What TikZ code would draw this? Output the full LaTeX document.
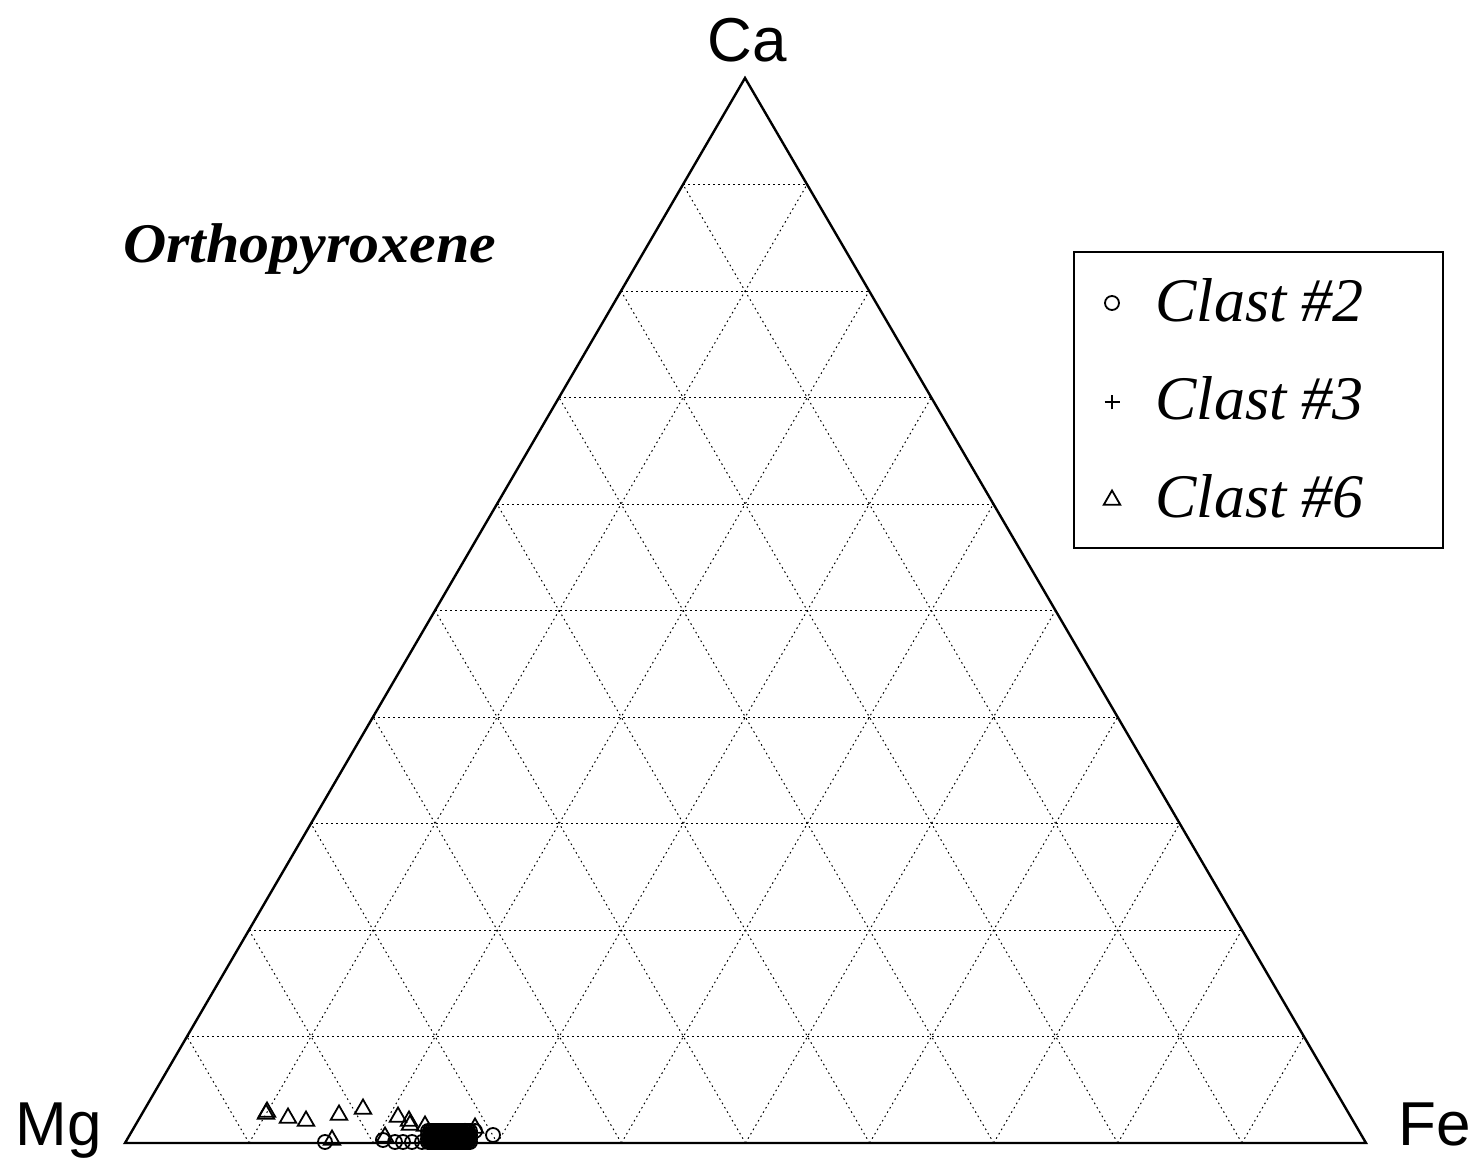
\documentclass[tikz,border=0pt]{standalone}
\usepackage{fontspec}
\setmainfont{Liberation Serif}
\newfontfamily\vertexfont{Liberation Sans}
\newfontfamily\titlefont[FakeStretch=1.07]{Liberation Serif}
\usetikzlibrary{shapes.geometric,shapes.misc,positioning,calc}
\tikzset{
  frame/.style={line width=1.2pt,line join=miter},
  gridline/.style={line width=0.5pt,dash pattern=on 0.8pt off 1.7pt},
  vertex/.style={font=\vertexfont\fontsize{31}{31}\selectfont,inner sep=0pt},
  plottitle/.style={font=\titlefont\bfseries\itshape\fontsize{28}{28}\selectfont,
                    inner sep=0pt,anchor=base west},
  clast/.style={font=\itshape\fontsize{31}{31}\selectfont,inner sep=0pt,anchor=base west},
  legendbox/.style={draw,line width=0.6pt,minimum width=184.5pt,minimum height=148pt,inner sep=0pt},
  cmark/.style={draw,circle,inner sep=0pt,minimum size=7pt,line width=0.9pt},
  pmark/.style={draw,cross out,rotate=45,inner sep=0pt,minimum size=4.5pt,line width=0.8pt},
  tmark/.style={draw,regular polygon,regular polygon sides=3,inner sep=0pt,
                minimum size=9.5pt,line width=0.9pt},
}

\begin{document}
\begin{tikzpicture}[x={(0.5pt,0)},y={(0,-0.5pt)}]
  \useasboundingbox (0,0) rectangle (1473,1165);

  % corners of the ternary
  \coordinate (Mg) at (125,1143);
  \coordinate (Fe) at (1366,1143);
  \coordinate (Ca) at (745,78);

  % 10% grid
  \foreach \i in {1,...,9}{
    \draw[gridline] ($(Mg)!\i/10!(Ca)$) -- ($(Fe)!\i/10!(Ca)$);
    \draw[gridline] ($(Mg)!\i/10!(Fe)$) -- ($(Mg)!\i/10!(Ca)$);
    \draw[gridline] ($(Fe)!\i/10!(Mg)$) -- ($(Fe)!\i/10!(Ca)$);
  }
  \draw[frame] (Mg) -- (Fe) -- (Ca) -- cycle;

  \node[vertex,anchor=base] (caLabel) at (747,62) {Ca};
  \node[vertex,anchor=base west] (mgLabel) at (15,1145) {Mg};
  \node[vertex,anchor=base west] (feLabel) at (1398,1145) {Fe};

  \node[plottitle] (title) at (123,263) {Orthopyroxene};

  % legend
  \node[legendbox] (legend) at (1258.5,400) {};
  \node[cmark] (legC) at (1112,303) {};
  \node[clast] (legCtext) at (1155,322) {Clast \#2};
  \node[pmark] (legP) at (1112,402) {};
  \node[clast] (legPtext) at (1155,420) {Clast \#3};
  \node[tmark] (legT) at (1112,500) {};
  \node[clast] (legTtext) at (1155,518) {Clast \#6};

  % Clast #6
  \foreach \x/\y [count=\n] in {267/1112,266/1114,288/1118,306/1121,339/1115,363/1109,
      332/1140,398/1117,409/1121,410/1125,425/1126,385/1137,475/1128,465/1134,
      448/1137,440/1140}
    \node[tmark] (t\n) at (\x,\y) {};
  % Clast #2
  \foreach \x/\y [count=\n] in {325/1142,383/1140,395/1142,403/1142,412/1142,
      422/1142,475/1131,493/1135}
    \node[cmark] (c\n) at (\x,\y) {};
  \foreach \x [count=\n] in {428,430,...,470}{
    \foreach \y in {1131,1135,1139,1142}
      \node[cmark] (b\n-\y) at (\x,\y) {};
  }
  % Clast #3
  \foreach \x/\y [count=\n] in {440/1138,455/1136,462/1140}
    \node[pmark] (p\n) at (\x,\y) {};
\end{tikzpicture}
\end{document}
